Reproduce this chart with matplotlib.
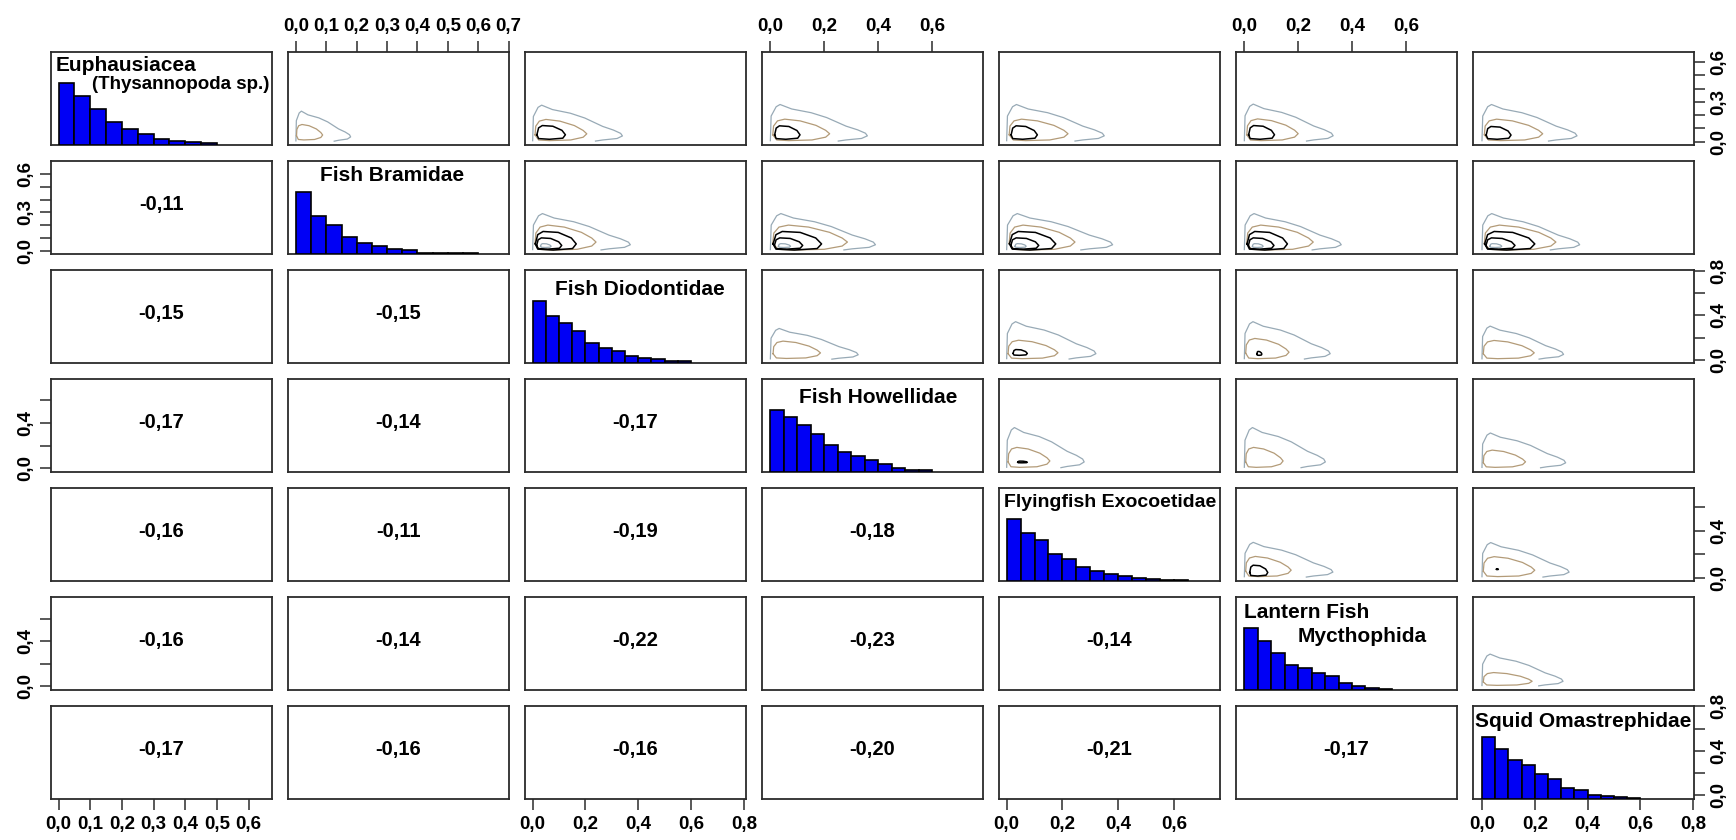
import numpy as np
import matplotlib
matplotlib.use("Agg")
import matplotlib.pyplot as plt

plt.rcParams["font.family"] = ["Liberation Sans", "DejaVu Sans"]
plt.rcParams["font.weight"] = "bold"

# ---- data ----
names = ["Euphausiacea", "Fish Bramidae", "Fish Diodontidae", "Fish Howellidae",
         "Flyingfish Exocoetidae", "Lantern Fish", "Squid Omastrephidae"]

# histogram bar heights (relative to tallest bar), bins of 0.05 starting at 0
hist_euph = [1.0, 0.795, 0.578, 0.378, 0.254, 0.178, 0.097, 0.07, 0.049, 0.027]
hist_bram = [1.0, 0.62, 0.46, 0.28, 0.18, 0.135, 0.076, 0.065, 0.022, 0.02, 0.02, 0.015]
hist_diod = [1.0, 0.76, 0.65, 0.51, 0.32, 0.25, 0.19, 0.12, 0.08, 0.07, 0.04, 0.03]
hist_howe = [1.0, 0.88, 0.76, 0.62, 0.44, 0.33, 0.26, 0.2, 0.13, 0.07, 0.04, 0.03]
hist_exoc = [1.0, 0.77, 0.66, 0.44, 0.35, 0.23, 0.16, 0.12, 0.08, 0.05, 0.035, 0.02, 0.015]
hist_myct = [1.0, 0.79, 0.59, 0.40, 0.35, 0.27, 0.22, 0.12, 0.065, 0.04, 0.02]
hist_omas = [1.0, 0.81, 0.63, 0.55, 0.41, 0.33, 0.18, 0.14, 0.07, 0.045, 0.03, 0.02]
hists = [hist_euph, hist_bram, hist_diod, hist_howe, hist_exoc, hist_myct, hist_omas]
bin_w = 0.05

# correlations, lower triangle (row, col) 1-based
corr = {
    (2, 1): "-0,11",
    (3, 1): "-0,15", (3, 2): "-0,15",
    (4, 1): "-0,17", (4, 2): "-0,14", (4, 3): "-0,17",
    (5, 1): "-0,16", (5, 2): "-0,11", (5, 3): "-0,19", (5, 4): "-0,18",
    (6, 1): "-0,16", (6, 2): "-0,14", (6, 3): "-0,22", (6, 4): "-0,23", (6, 5): "-0,14",
    (7, 1): "-0,17", (7, 2): "-0,16", (7, 3): "-0,16", (7, 4): "-0,20", (7, 5): "-0,21",
    (7, 6): "-0,17",
}

# axis ranges per variable
var_lims = [(-0.024, 0.674), (-0.026, 0.701), (-0.029, 0.808), (-0.031, 0.789),
            (-0.0275, 0.765), (-0.031, 0.790), (-0.034, 0.803)]
x_ticks = [[0, .1, .2, .3, .4, .5, .6], [0, .1, .2, .3, .4, .5, .6, .7],
           [0, .2, .4, .6, .8], [0, .2, .4, .6], [0, .2, .4, .6], [0, .2, .4, .6],
           [0, .2, .4, .6, .8]]
y_ticks = [[0, .1, .2, .3, .4, .5, .6], [0, .1, .2, .3, .4, .5, .6],
           [0, .2, .4, .6, .8], [0, .2, .4, .6], [0, .2, .4, .6], [0, .2, .4, .6],
           [0, .2, .4, .6, .8]]
y_labeled = [[0, .3, .6], [0, .3, .6], [0, .4, .8], [0, .4], [0, .4], [0, .4], [0, .4, .8]]

# contour outlines (normalized shape) and per-panel extents (x0, x1, y0, y1)
outer_tx = [0, .008, .06, .10, .22, .42, .58, .78, .90, .98, 1.0, .94, .78, .70]
outer_ty = [.03, .69, .94, 1.0, .88, .78, .65, .42, .32, .23, .16, .09, .05, .02]
mid_tx = [0, .014, .083, .21, .48, .76, .93, 1.0, .93, .69, .28, .07, 0]
mid_ty = [.27, .68, .92, 1.0, .92, .71, .48, .32, .16, .03, 0, .03, .27]
inner_tx = [0, .06, .19, .56, .88, 1.0, .91, .44, .06, 0]
inner_ty = [.33, .83, 1.0, .95, .65, .33, .08, 0, .05, .33]

outer_ext = {
    (1, 2): (0.0, 0.18, 0.0, 0.23), (1, 3): (0.0, 0.34, 0.0, 0.275),
    (1, 4): (0.0, 0.36, 0.0, 0.28), (1, 5): (0.0, 0.35, 0.0, 0.28),
    (1, 6): (0.0, 0.33, 0.0, 0.283), (1, 7): (0.0, 0.36, 0.0, 0.28),
    (2, 3): (0.0, 0.37, 0.0, 0.29), (2, 4): (0.0, 0.39, 0.0, 0.29),
    (2, 5): (0.0, 0.38, 0.0, 0.29), (2, 6): (0.0, 0.36, 0.0, 0.29),
    (2, 7): (0.0, 0.37, 0.0, 0.29),
    (3, 4): (0.0, 0.326, 0.0, 0.282), (3, 5): (0.0, 0.32, 0.0, 0.343),
    (3, 6): (0.0, 0.319, 0.0, 0.343), (3, 7): (0.0, 0.309, 0.0, 0.303),
    (4, 5): (0.0, 0.278, 0.0, 0.361), (4, 6): (0.0, 0.301, 0.0, 0.361),
    (4, 7): (0.0, 0.317, 0.0, 0.313),
    (5, 6): (0.0, 0.329, 0.0, 0.302), (5, 7): (0.0, 0.33, 0.0, 0.30),
    (6, 7): (0.0, 0.307, 0.0, 0.286),
}
mid_ext = {
    (1, 2): (0.002, 0.088, 0.014, 0.13), (1, 3): (0.009, 0.205, 0.009, 0.168),
    (1, 4): (0.009, 0.22, 0.009, 0.17), (1, 5): (0.009, 0.22, 0.009, 0.17),
    (1, 6): (0.009, 0.20, 0.009, 0.172), (1, 7): (0.009, 0.23, 0.009, 0.17),
    (2, 3): (0.009, 0.24, 0.005, 0.20), (2, 4): (0.009, 0.286, 0.005, 0.20),
    (2, 5): (0.009, 0.245, 0.005, 0.20), (2, 6): (0.009, 0.256, 0.005, 0.20),
    (2, 7): (0.009, 0.28, 0.005, 0.20),
    (3, 4): (0.01, 0.186, 0.012, 0.168), (3, 5): (0.005, 0.184, 0.01, 0.176),
    (3, 6): (0.005, 0.166, 0.01, 0.192), (3, 7): (0.005, 0.198, 0.01, 0.174),
    (4, 5): (0.005, 0.155, 0.01, 0.186), (4, 6): (0.005, 0.144, 0.01, 0.186),
    (4, 7): (0.005, 0.165, 0.01, 0.162),
    (5, 6): (0.005, 0.174, 0.01, 0.182), (5, 7): (0.005, 0.20, 0.01, 0.18),
    (6, 7): (0.005, 0.19, 0.01, 0.123),
}
inner_ext = {
    (1, 3): (0.016, 0.124, 0.019, 0.122), (1, 4): (0.016, 0.11, 0.019, 0.12),
    (1, 5): (0.016, 0.11, 0.019, 0.12), (1, 6): (0.016, 0.112, 0.019, 0.122),
    (1, 7): (0.016, 0.11, 0.019, 0.115),
    (2, 3): (0.01, 0.165, 0.005, 0.15), (2, 4): (0.01, 0.19, 0.005, 0.15),
    (2, 5): (0.01, 0.176, 0.005, 0.15), (2, 6): (0.01, 0.16, 0.005, 0.15),
    (2, 7): (0.01, 0.20, 0.005, 0.15),
    (3, 5): (0.023, 0.074, 0.04, 0.092), (3, 6): (0.047, 0.065, 0.04, 0.075),
    (4, 5): (0.04, 0.074, 0.05, 0.065),
    (5, 6): (0.02, 0.087, 0.015, 0.107), (5, 7): (0.055, 0.062, 0.07, 0.077),
}
inner2_ext = {
    (2, 3): (0.015, 0.11, 0.012, 0.10), (2, 4): (0.015, 0.12, 0.012, 0.10),
    (2, 5): (0.015, 0.115, 0.012, 0.10), (2, 6): (0.015, 0.11, 0.012, 0.10),
    (2, 7): (0.015, 0.125, 0.012, 0.10),
}
inner3_ext = {
    (2, 3): (0.03, 0.07, 0.025, 0.055), (2, 4): (0.03, 0.075, 0.025, 0.055),
    (2, 5): (0.03, 0.07, 0.025, 0.055), (2, 6): (0.03, 0.07, 0.025, 0.055),
    (2, 7): (0.03, 0.075, 0.025, 0.055),
}

# ---- styles ----
c_outer = "#98aab6"
c_mid = "#b39b78"
c_inner = "black"
frame_c = "#2b2b2b"
lab_fs = 15
cor_fs = 14.5
tick_fs = 13.5

fig, axes = plt.subplots(7, 7, figsize=(17.36, 8.40), dpi=100)
fig.subplots_adjust(left=51 / 1736, right=1694 / 1736, top=1 - 52 / 840,
                    bottom=1 - 799 / 840, wspace=16 / 221, hspace=16 / 93)


def outline(ax, tx, ty, ext, color, lw=1.0):
    x0, x1, y0, y1 = ext
    xs = x0 + np.array(tx) * (x1 - x0)
    ys = y0 + np.array(ty) * (y1 - y0)
    ax.plot(xs, ys, color=color, lw=lw, solid_joinstyle="round")


for i in range(7):
    for j in range(7):
        ax = axes[i, j]
        ax.set_xlim(var_lims[j])
        ax.set_ylim(var_lims[i])
        ax.set_xticks([])
        ax.set_yticks([])
        for sp in ax.spines.values():
            sp.set_linewidth(1.3)
            sp.set_color(frame_c)
        key = (i + 1, j + 1)
        if i == j:
            tw = ax.twinx()
            tw.set_ylim(0, 1.5)
            tw.set_yticks([])
            for sp in tw.spines.values():
                sp.set_visible(False)
            h = hists[i]
            edges = np.arange(len(h)) * bin_w
            tw.bar(edges, h, width=bin_w, align="edge", color="#0000f5",
                   edgecolor="black", linewidth=1.2)
        elif i > j:
            ax.text(0.5, 0.53, corr[key], transform=ax.transAxes, ha="center",
                    va="center", fontsize=cor_fs, fontweight="bold")
        else:
            outline(ax, outer_tx, outer_ty, outer_ext[key], c_outer, 0.9)
            outline(ax, mid_tx, mid_ty, mid_ext[key], c_mid, 0.9)
            if key in inner_ext:
                outline(ax, inner_tx, inner_ty, inner_ext[key], c_inner, 1.1)
            if key in inner2_ext:
                outline(ax, inner_tx, inner_ty, inner2_ext[key], c_inner, 1.1)
            if key in inner3_ext:
                outline(ax, inner_tx, inner_ty, inner3_ext[key], c_outer, 0.9)


# diagonal labels
def lab(ax, x, y, s, ha="center", fs=lab_fs):
    ax.text(x, y, s, transform=ax.transAxes, ha=ha, va="center",
            fontsize=fs, fontweight="bold", zorder=5)


lab(axes[0, 0], 0.02, 0.86, "Euphausiacea", ha="left")
lab(axes[0, 0], 0.99, 0.65, "(Thysannopoda sp.)", ha="right", fs=13.5)
lab(axes[1, 1], 0.473, 0.84, names[1])
lab(axes[2, 2], 0.52, 0.79, names[2])
lab(axes[3, 3], 0.525, 0.80, names[3])
lab(axes[4, 4], 0.503, 0.84, names[4], fs=14)
lab(axes[5, 5], 0.034, 0.83, "Lantern Fish", ha="left")
lab(axes[5, 5], 0.863, 0.57, "Mycthophida", ha="right")
lab(axes[6, 6], 0.498, 0.83, names[6])


def fmt(v):
    return f"{v:.1f}".replace(".", ",")


tick_kw = dict(length=8, width=1.1, color=frame_c, labelsize=tick_fs, pad=4)

# outer x axes: alternate bottom / top
for j in range(7):
    if j % 2 == 0:
        ax = axes[6, j]
        ax.xaxis.set_ticks_position("bottom")
    else:
        ax = axes[0, j]
        ax.xaxis.set_ticks_position("top")
    ax.set_xticks(x_ticks[j])
    ax.set_xticklabels([fmt(v) for v in x_ticks[j]], fontweight="bold")
    ax.tick_params(axis="x", **tick_kw)

# outer y axes: alternate right / left
for i in range(7):
    if i % 2 == 0:
        ax = axes[i, 6]
        ax.yaxis.set_ticks_position("right")
        ha = "left"
    else:
        ax = axes[i, 0]
        ax.yaxis.set_ticks_position("left")
        ha = "right"
    ax.set_yticks(y_ticks[i])
    labels = [fmt(v) if any(abs(v - w) < 1e-9 for w in y_labeled[i]) else ""
              for v in y_ticks[i]]
    ax.set_yticklabels(labels, fontweight="bold")
    ax.tick_params(axis="y", **tick_kw)
    for t in ax.get_yticklabels():
        t.set_rotation(90)
        t.set_va("center")
        t.set_ha(ha)

fig.savefig("out.png", dpi=100)
